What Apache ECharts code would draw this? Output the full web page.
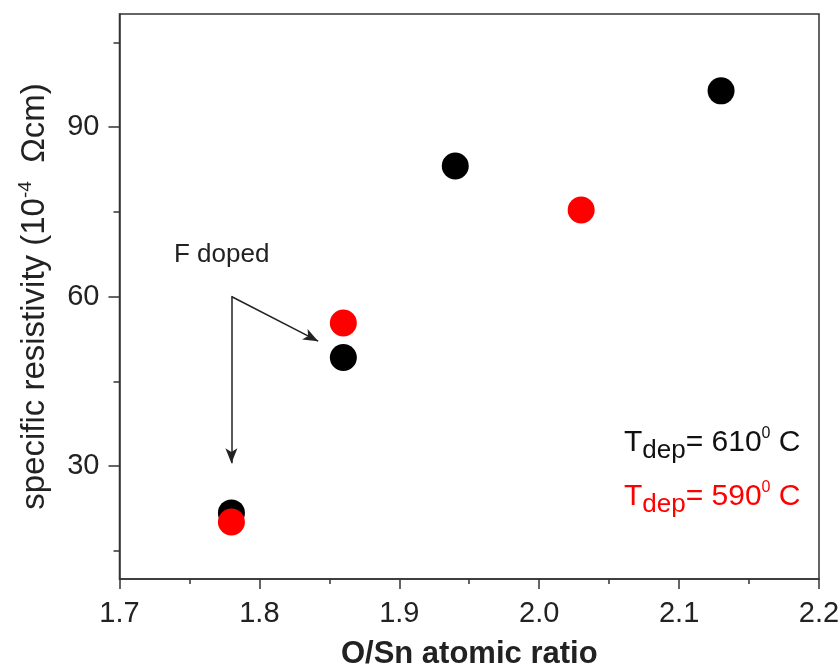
<!DOCTYPE html>
<html>
<head>
<meta charset="utf-8">
<script src="https://cdn.jsdelivr.net/npm/echarts@6/dist/echarts.min.js"></script>
<style>html,body{margin:0;padding:0;background:#fff}#c{width:840px;height:666px}</style>
</head>
<body>
<div id="c"></div>
<script>
var xTicks = [1.7, 1.8, 1.9, 2.0, 2.1, 2.2];
var yMajorTicks = [30, 60, 90];
var yMinorTicks = [15, 45, 75, 105];
var black610X = [1.78, 1.86, 1.94, 2.13];
var black610Y = [21.7, 49.2, 83.1, 96.4];
var red590X = [1.78, 1.86, 2.03];
var red590Y = [20.1, 55.3, 75.3];
var arrowStart = [1.78, 60];
var arrowEnds = [[1.78, 30.5], [1.842, 52.1]];

function pairs(xs, ys) { return xs.map(function (x, i) { return [x, ys[i]]; }); }

var chart = echarts.init(document.getElementById('c'));
var FONT = 'Liberation Sans, Arial, sans-serif';
chart.setOption({
  animation: false,
  backgroundColor: '#fff',
  grid: { left: 119.5, right: 21, top: 14, bottom: 87, outerBoundsMode: 'none', containLabel: false,
    show: true, borderColor: '#333', borderWidth: 1.5, backgroundColor: 'transparent' },
  xAxis: {
    type: 'value', min: 1.7, max: 2.2, interval: 0.1,
    name: 'O/Sn atomic ratio', nameLocation: 'middle', nameGap: 60,
    nameTextStyle: { fontFamily: FONT, fontSize: 31, fontWeight: 'bold', color: '#222' },
    axisLine: { show: true, lineStyle: { color: '#333', width: 1.5 } },
    axisTick: { show: true, inside: false, length: 10, lineStyle: { color: '#333', width: 1.5 } },
    minorTick: { show: true, splitNumber: 2, length: 5, lineStyle: { color: '#333', width: 1.5 } },
    axisLabel: { fontFamily: FONT, fontSize: 29, color: '#222', margin: 20,
      formatter: function (v) { return v.toFixed(1); },
      customValues: xTicks },
    splitLine: { show: false }
  },
  yAxis: [{
    type: 'value', min: 10, max: 110,
    name: '{n|specific resistivity (10}{s|-4}{n|  Ωcm)}', nameLocation: 'middle', nameGap: 66, nameRotate: 90,
    nameTextStyle: { rich: {
      n: { fontFamily: FONT, fontSize: 33, color: '#222' },
      s: { fontFamily: FONT, fontSize: 19, color: '#222', verticalAlign: 'top', padding: [0, 0, 18, 0] }
    } },
    axisLine: { show: true, lineStyle: { color: '#333', width: 1.5 } },
    axisTick: { show: true, length: 11, customValues: yMajorTicks, lineStyle: { color: '#333', width: 1.5 } },
    axisLabel: { fontFamily: FONT, fontSize: 29, color: '#222', margin: 20, customValues: yMajorTicks },
    splitLine: { show: false }
  }, {
    type: 'value', min: 10, max: 110, position: 'left', offset: 0,
    axisLine: { show: false },
    axisTick: { show: true, length: 6, customValues: yMinorTicks, lineStyle: { color: '#333', width: 1.5 } },
    axisLabel: { show: false },
    splitLine: { show: false }
  }],
  series: [{
    name: 'Tdep=610 C', type: 'scatter', symbolSize: 27, yAxisIndex: 0,
    itemStyle: { color: '#000', opacity: 1 },
    data: pairs(black610X, black610Y),
    markLine: {
      silent: true, symbol: ['none', 'arrow'], symbolSize: [9, 15],
      label: { show: false },
      lineStyle: { color: '#222', width: 1.5, type: 'solid' },
      data: arrowEnds.map(function (e) { return [{ coord: arrowStart }, { coord: e }]; })
    }
  }, {
    name: 'Tdep=590 C', type: 'scatter', symbolSize: 27, yAxisIndex: 0,
    itemStyle: { color: '#ff0000', opacity: 1 },
    data: pairs(red590X, red590Y)
  }],
  graphic: [{
    type: 'text', left: 174, top: 242,
    style: { text: 'F doped', font: '26px ' + FONT, fill: '#222' }
  }, {
    type: 'text', left: 624, top: 426,
    style: {
      text: '{t|T}{d|dep}{t|= 610}{s|0}{t| C}',
      rich: {
        t: { font: '30px ' + FONT, fill: '#111' },
        d: { font: '26px ' + FONT, fill: '#111', padding: [15, 0, 0, 0] },
        s: { font: '16px ' + FONT, fill: '#111', padding: [0, 0, 18, 0] }
      }
    }
  }, {
    type: 'text', left: 624, top: 480,
    style: {
      text: '{t|T}{d|dep}{t|= 590}{s|0}{t| C}',
      rich: {
        t: { font: '30px ' + FONT, fill: '#ff0000' },
        d: { font: '26px ' + FONT, fill: '#ff0000', padding: [15, 0, 0, 0] },
        s: { font: '16px ' + FONT, fill: '#ff0000', padding: [0, 0, 18, 0] }
      }
    }
  }]
});
</script>
</body>
</html>
